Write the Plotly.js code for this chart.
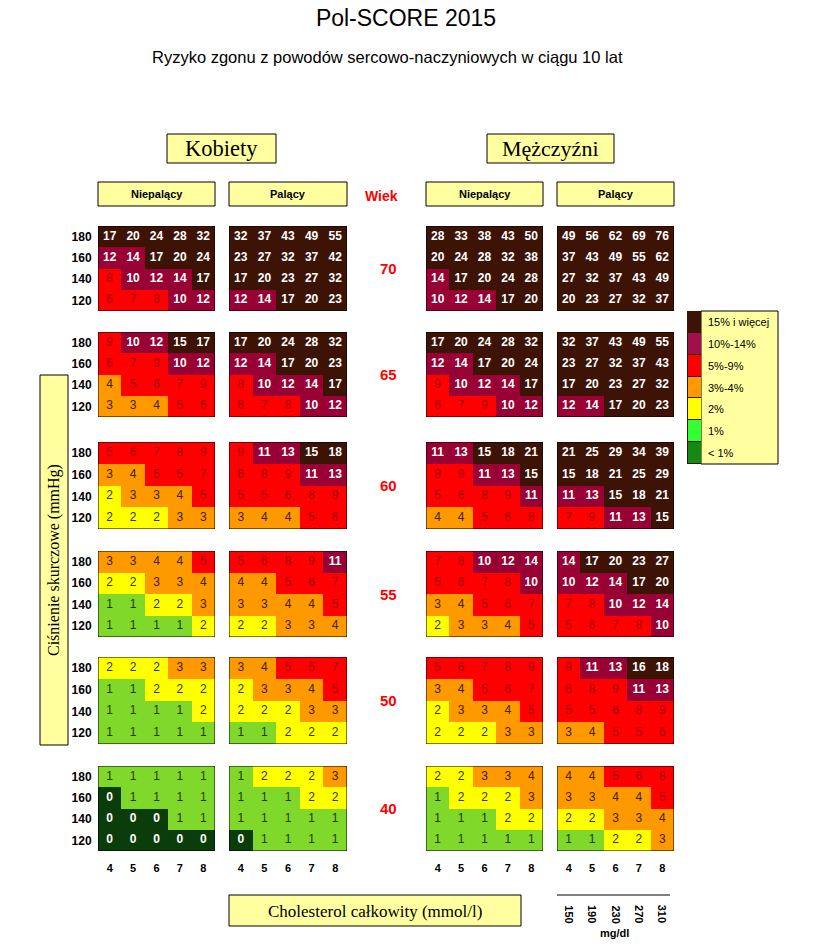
<!DOCTYPE html>
<html>
<head>
<meta charset="utf-8">
<script src="https://cdn.plot.ly/plotly-3.0.1.min.js"></script>
<style>html,body{margin:0;padding:0;background:#fff;}#chart{width:833px;height:945px;}</style>
</head>
<body>
<div id="chart"></div>
<script>
// ---------------- DATA ----------------
const ages = [70, 65, 60, 55, 50, 40];
const systolic = [180, 160, 140, 120];           // rows, top to bottom
const cholesterol = [4, 5, 6, 7, 8];             // mmol/l
const cholesterolMgDl = [150, 190, 230, 270, 310];
const groupNames = ['Niepalący', 'Palący', 'Niepalący', 'Palący'];
const sexNames = ['Kobiety', 'Mężczyźni'];
const legendLabels = ['< 1%', '1%', '2%', '3%-4%', '5%-9%', '10%-14%', '15% i więcej'];

// each entry: one age block (in ages order), rows 180,160,140,120, cols chol 4..8
const womenNonSmokers = [
  [[17,20,24,28,32],[12,14,17,20,24],[8,10,12,14,17],[6,7,8,10,12]],
  [[9,10,12,15,17],[6,7,9,10,12],[4,5,6,7,9],[3,3,4,5,6]],
  [[5,6,7,8,9],[3,4,5,5,7],[2,3,3,4,5],[2,2,2,3,3]],
  [[3,3,4,4,5],[2,2,3,3,4],[1,1,2,2,3],[1,1,1,1,2]],
  [[2,2,2,3,3],[1,1,2,2,2],[1,1,1,1,2],[1,1,1,1,1]],
  [[1,1,1,1,1],[0,1,1,1,1],[0,0,0,1,1],[0,0,0,0,0]]
];
const womenSmokers = [
  [[32,37,43,49,55],[23,27,32,37,42],[17,20,23,27,32],[12,14,17,20,23]],
  [[17,20,24,28,32],[12,14,17,20,23],[8,10,12,14,17],[6,7,8,10,12]],
  [[9,11,13,15,18],[6,8,9,11,13],[5,5,6,8,9],[3,4,4,5,6]],
  [[5,6,8,9,11],[4,4,5,6,7],[3,3,4,4,5],[2,2,3,3,4]],
  [[3,4,5,5,7],[2,3,3,4,5],[2,2,2,3,3],[1,1,2,2,2]],
  [[1,2,2,2,3],[1,1,1,2,2],[1,1,1,1,1],[0,1,1,1,1]]
];
const menNonSmokers = [
  [[28,33,38,43,50],[20,24,28,32,38],[14,17,20,24,28],[10,12,14,17,20]],
  [[17,20,24,28,32],[12,14,17,20,24],[9,10,12,14,17],[6,7,9,10,12]],
  [[11,13,15,18,21],[8,9,11,13,15],[5,6,8,9,11],[4,4,5,6,8]],
  [[7,8,10,12,14],[5,6,7,8,10],[3,4,5,6,7],[2,3,3,4,5]],
  [[5,6,7,8,9],[3,4,5,6,7],[2,3,3,4,5],[2,2,2,3,3]],
  [[2,2,3,3,4],[1,2,2,2,3],[1,1,1,2,2],[1,1,1,1,1]]
];
const menSmokers = [
  [[49,56,62,69,76],[37,43,49,55,62],[27,32,37,43,49],[20,23,27,32,37]],
  [[32,37,43,49,55],[23,27,32,37,43],[17,20,23,27,32],[12,14,17,20,23]],
  [[21,25,29,34,39],[15,18,21,25,29],[11,13,15,18,21],[7,9,11,13,15]],
  [[14,17,20,23,27],[10,12,14,17,20],[7,8,10,12,14],[5,6,7,8,10]],
  [[9,11,13,16,18],[6,8,9,11,13],[5,5,6,8,9],[3,4,5,5,6]],
  [[4,4,5,6,8],[3,3,4,4,5],[2,2,3,3,4],[1,1,2,2,3]]
];

// ---------------- STYLE / LAYOUT ----------------
const W = 833, H = 945;
const px = x => x / W;
const py = y => 1 - y / H;
const SANS = 'Liberation Sans, Arial, sans-serif';
const SERIF = 'Liberation Serif, Times New Roman, serif';
const BOXFILL = '#ffffa0';

const cellColors = ['#0b3d0b', '#7fd82a', '#ffff00', '#ff9900', '#ff0000', '#990033', '#3d1306'];
const legendColors = ['#148a14', '#33ff33', '#ffff00', '#ff9900', '#ff0000', '#a0104a', '#3d1306'];
const textColors = ['#ffffff', '#1f3a00', '#333300', '#402000', '#a00000', '#ffffff', '#ffffff'];
const boldCat = [true, false, false, false, false, true, true];

function category(v) {
  if (v < 1) return 0;
  if (v === 1) return 1;
  if (v === 2) return 2;
  if (v <= 4) return 3;
  if (v <= 9) return 4;
  if (v <= 14) return 5;
  return 6;
}
function discreteScale(cols) {
  const n = cols.length, s = [];
  cols.forEach((c, i) => { s.push([i / n, c]); s.push([(i + 1) / n, c]); });
  return s;
}

const groups = [womenNonSmokers, womenSmokers, menNonSmokers, menSmokers];
const gridX = [[98, 215], [229, 347], [426, 543], [557, 674]];
const ageY = [[226, 311], [332, 417], [442, 529], [551, 637], [657, 744], [766, 851]];

const xName = g => g === 0 ? 'x' : 'x' + (g + 1);
const yName = a => a === 0 ? 'y' : 'y' + (a + 1);
const xKey = g => g === 0 ? 'xaxis' : 'xaxis' + (g + 1);
const yKey = a => a === 0 ? 'yaxis' : 'yaxis' + (a + 1);

const traces = [];
const shapes = [];
const annotations = [];
const yUp = systolic.slice().reverse();

groups.forEach((grp, g) => {
  grp.forEach((block, a) => {
    const rowsUp = block.slice().reverse();
    const z = rowsUp.map(r => r.map(category));
    traces.push({
      type: 'heatmap', x: cholesterol, y: yUp, z: z,
      zmin: -0.5, zmax: 6.5, colorscale: discreteScale(cellColors),
      showscale: false, hoverinfo: 'skip',
      xaxis: xName(g), yaxis: yName(a)
    });
    const tx = [], ty = [], tt = [], tc = [];
    rowsUp.forEach((r, i) => r.forEach((v, j) => {
      const c = category(v);
      tx.push(cholesterol[j]); ty.push(yUp[i]);
      tt.push(boldCat[c] ? '<b>' + v + '</b>' : String(v));
      tc.push(textColors[c]);
    }));
    traces.push({
      type: 'scatter', mode: 'text', x: tx, y: ty, text: tt,
      textfont: {family: SANS, size: 12, color: tc},
      hoverinfo: 'skip', showlegend: false,
      xaxis: xName(g), yaxis: yName(a)
    });
    shapes.push({type: 'rect', xref: xName(g), yref: yName(a),
      x0: 3.5, x1: 8.5, y0: 110, y1: 190, line: {color: '#000', width: 1}});
  });
});

const layout = {
  width: W, height: H,
  margin: {l: 0, r: 0, t: 0, b: 0},
  paper_bgcolor: '#fff', plot_bgcolor: 'rgba(0,0,0,0)',
  showlegend: false,
  font: {family: SANS, color: '#000'},
  title: {text: 'Pol-SCORE 2015', x: px(406), xanchor: 'center', y: py(18), yanchor: 'middle',
          font: {family: SANS, size: 23, color: '#000'}},
  shapes: shapes, annotations: annotations
};

gridX.forEach((r, g) => {
  layout[xKey(g)] = {
    domain: [px(r[0]), px(r[1])], range: [3.5, 8.5], anchor: yName(5),
    tickvals: cholesterol, ticktext: cholesterol.map(c => '<b>' + c + '</b>'),
    ticks: 'outside', ticklen: 7, tickcolor: 'rgba(0,0,0,0)',
    tickfont: {family: SANS, size: 11, color: '#000'},
    showgrid: false, zeroline: false, showline: false, fixedrange: true
  };
});
ageY.forEach((r, a) => {
  layout[yKey(a)] = {
    domain: [py(r[1]), py(r[0])], range: [110, 190], anchor: 'free', position: px(98),
    tickvals: systolic, ticktext: systolic.map(s => '<b>' + s + '</b>'),
    ticks: 'outside', ticklen: 4, tickcolor: 'rgba(0,0,0,0)',
    tickfont: {family: SANS, size: 12, color: '#000'},
    showgrid: false, zeroline: false, showline: false, fixedrange: true
  };
  annotations.push({xref: 'paper', x: px(388), yref: yName(a), y: 150,
    text: '<b>' + ages[a] + '</b>', showarrow: false,
    font: {family: SANS, size: 15, color: '#ff0000'}, xanchor: 'center', yanchor: 'middle'});
});

// legend strip
layout.xaxis5 = {domain: [px(688), px(701)], range: [-0.5, 0.5], visible: false, fixedrange: true, anchor: 'y7'};
layout.yaxis7 = {domain: [py(464), py(311)], range: [-0.5, 6.5], visible: false, fixedrange: true, anchor: 'x5'};
traces.push({
  type: 'heatmap', x: [0], y: legendLabels.map((_, i) => i), z: legendLabels.map((_, i) => [i]),
  zmin: -0.5, zmax: 6.5, colorscale: discreteScale(legendColors), showscale: false,
  hoverinfo: 'skip', xaxis: 'x5', yaxis: 'y7', ygap: 1
});
shapes.push({type: 'rect', xref: 'paper', yref: 'paper', x0: px(701), x1: px(778), y0: py(464), y1: py(311),
  fillcolor: BOXFILL, line: {color: '#000', width: 1}, layer: 'below'});
shapes.push({type: 'rect', xref: 'paper', yref: 'paper', x0: px(687), x1: px(701), y0: py(464), y1: py(311),
  fillcolor: '#3d1306', line: {width: 0}, layer: 'below'});
legendLabels.forEach((t, i) => annotations.push({xref: 'paper', x: px(706), yref: 'y7', y: i,
  text: t, showarrow: false, xanchor: 'left', yanchor: 'middle',
  font: {family: SANS, size: 11, color: '#000'}}));

// header boxes
function box(x0, x1, y0, y1) {
  shapes.push({type: 'rect', xref: 'paper', yref: 'paper', x0: px(x0), x1: px(x1), y0: py(y1), y1: py(y0),
    fillcolor: BOXFILL, line: {color: '#000', width: 1}, layer: 'below'});
}
function label(text, x, y, font, extra) {
  annotations.push(Object.assign({xref: 'paper', yref: 'paper', x: px(x), y: py(y), text: text,
    showarrow: false, xanchor: 'center', yanchor: 'middle', font: font}, extra || {}));
}
label('Ryzyko zgonu z powodów sercowo-naczyniowych w ciągu 10 lat', 387, 57, {family: SANS, size: 16.5, color: '#000'});

box(167, 276, 134, 163); label(sexNames[0], 221.5, 149, {family: SERIF, size: 22.5, color: '#000'});
box(487, 614, 134, 163); label(sexNames[1], 550.5, 149, {family: SERIF, size: 22, color: '#000'});
gridX.forEach((r, g) => {
  box(r[0], r[1], 182, 206);
  label('<b>' + groupNames[g] + '</b>', (r[0] + r[1]) / 2, 194, {family: SANS, size: 11, color: '#000'});
});
label('<b>Wiek</b>', 381, 196, {family: SANS, size: 14, color: '#ff0000'});

// y axis title box
box(40, 68, 375, 745);
label('Ciśnienie skurczowe (mmHg)', 54, 560, {family: SERIF, size: 16, color: '#000'}, {textangle: -90});

// x axis title box
box(229, 521, 895, 926);
label('Cholesterol całkowity (mmol/l)', 375, 911, {family: SERIF, size: 17, color: '#000'});

// mg/dl scale
shapes.push({type: 'line', xref: 'paper', yref: 'paper', x0: px(557), x1: px(670), y0: py(895), y1: py(895),
  line: {color: '#000', width: 1}});
cholesterolMgDl.forEach((m, i) => annotations.push({xref: 'x4', x: cholesterol[i], yref: 'paper', y: py(914),
  text: '<b>' + m + '</b>', showarrow: false, textangle: 90, xanchor: 'center', yanchor: 'middle',
  font: {family: SANS, size: 11, color: '#000'}}));
label('<b>mg/dl</b>', 614, 933, {family: SANS, size: 11, color: '#000'});

Plotly.newPlot('chart', traces, layout, {displayModeBar: false, staticPlot: true});
</script>
</body>
</html>
